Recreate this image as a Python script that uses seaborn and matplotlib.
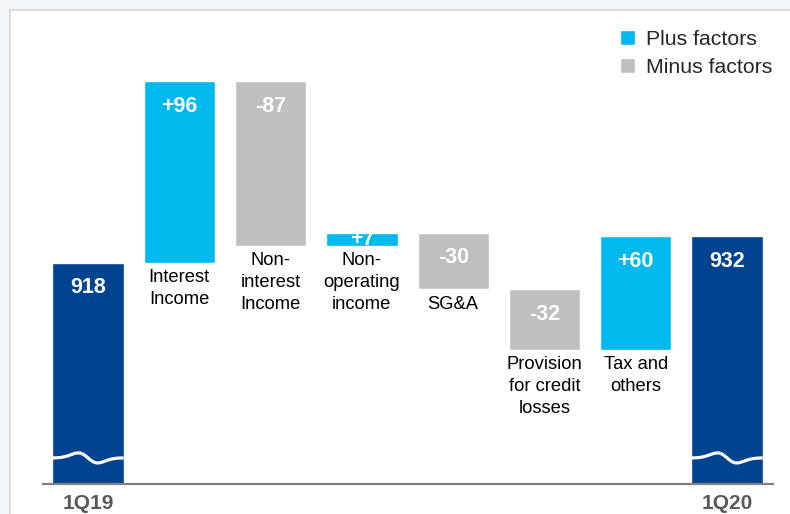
import numpy as np
import pandas as pd
import matplotlib
matplotlib.use("Agg")
import matplotlib.pyplot as plt
from matplotlib.patches import Patch, Rectangle
import seaborn as sns

# =============================================================================
# DATA
# =============================================================================

categories = ["1Q19", "Interest\nIncome", "Non-\ninterest\nIncome",
              "Non-\noperating\nincome", "SG&A", "Provision\nfor credit\nlosses",
              "Tax and\nothers", "1Q20"]
kinds = ["total", "plus", "minus", "plus", "minus", "minus", "plus", "total"]
changes = [918, 96, -87, 7, -30, -32, 60, 932]
value_labels = ["918", "+96", "-87", "+7", "-30", "-32", "+60", "932"]
tick_labels = ["1Q19", "", "", "", "", "", "", "1Q20"]
legend_labels = ["Plus factors", "Minus factors"]

colors = {"total": "#00438F", "plus": "#00B9EF", "minus": "#BFBFBF"}

# running levels for the floating bars
level = 0
bottoms, heights = [], []
for kind, ch in zip(kinds, changes):
    if kind == "total":
        bottoms.append(0)
        heights.append(ch)
        level = ch
    elif ch >= 0:
        bottoms.append(level)
        heights.append(ch)
        level += ch
    else:
        level += ch
        bottoms.append(level)
        heights.append(-ch)

df = pd.DataFrame({"category": categories, "kind": kinds,
                   "bottom": bottoms, "height": heights})
df["top"] = df["bottom"] + df["height"]

# =============================================================================
# PLOT
# =============================================================================

sns.set_theme(style="white")
plt.rcParams["font.family"] = ["Liberation Sans", "DejaVu Sans"]

fig = plt.figure(figsize=(7.9, 5.14), dpi=100)
fig.patch.set_facecolor("#F2F5FA")
fig.add_artist(Rectangle((10 / 790, -0.02), 1.0, 504 / 514 + 0.02,
                         transform=fig.transFigure, facecolor="white",
                         edgecolor="#D4D4D8", lw=1.2, zorder=-1))

ax = fig.add_axes([43 / 790, 30 / 514, 730 / 790, 464 / 514])
ax.set_facecolor("none")

for kind in ["total", "plus", "minus"]:
    sub = df[df["kind"] == kind]
    sns.barplot(data=sub, x="category", y="height", order=categories,
                color=colors[kind], saturation=1, width=0.78,
                bottom=sub["bottom"].values, errorbar=None, ax=ax)

y_floor = 801
ax.set_ylim(y_floor, y_floor + 464 / 1.89)
ax.set_xlim(-0.493, 7.503)

# wave marks across the truncated total bars
t = np.linspace(0, 1, 80)
u = t - 0.15 * np.sin(2 * np.pi * t)
for i, kind in enumerate(kinds):
    if kind == "total":
        xs = i - 0.39 + 0.78 * t
        ys = 814.8 + 2.65 * np.sin(2 * np.pi * u)
        ax.plot(xs, ys, color="white", lw=2.3, solid_capstyle="butt")

# value labels inside bars, category labels under the floating bars
for i, row in df.iterrows():
    top, bottom = row["top"], max(row["bottom"], y_floor)
    if (top - bottom) * 1.89 > 40:
        ax.annotate(value_labels[i], xy=(i, top), xytext=(0, -18),
                    textcoords="offset points", ha="center", va="center",
                    color="white", fontsize=15.5, fontweight="bold")
    else:
        ax.text(i, (top + bottom) / 2, value_labels[i], ha="center",
                va="center", color="white", fontsize=15.5, fontweight="bold")
    if row["kind"] != "total":
        ax.annotate(row["category"], xy=(i, row["bottom"]), xytext=(0, -4.5),
                    textcoords="offset points", ha="center", va="top",
                    color="black", fontsize=13.2, linespacing=1.38)

ax.set_xticks(range(len(categories)))
ax.set_xticklabels(tick_labels, fontsize=15, fontweight="bold", color="#595959")
ax.tick_params(axis="x", length=0, pad=7)
ax.set_yticks([])
ax.set_xlabel("")
ax.set_ylabel("")
for side in ["top", "left", "right"]:
    ax.spines[side].set_visible(False)
ax.spines["bottom"].set_color("#808080")
ax.spines["bottom"].set_linewidth(1.6)

handles = [Patch(facecolor=colors["plus"], label=legend_labels[0]),
           Patch(facecolor=colors["minus"], label=legend_labels[1])]
fig.legend(handles=handles, loc="upper right", bbox_to_anchor=(772 / 790, 1 - 30 / 514),
           frameon=False, fontsize=15.3, handlelength=0.72, handleheight=0.72,
           handletextpad=0.5, labelspacing=0.42, borderpad=0, borderaxespad=0)

fig.savefig("out.png", dpi=100, facecolor=fig.get_facecolor())
